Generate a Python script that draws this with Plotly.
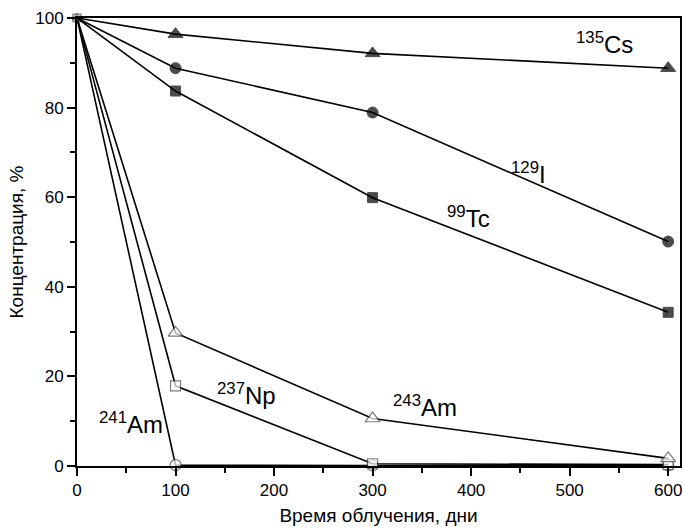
import plotly.graph_objects as go

days = [0, 100, 300, 600]
cs135 = [100, 96.4, 92.1, 88.8]
i129 = [100, 88.8, 78.9, 50.1]
tc99 = [100, 83.7, 59.9, 34.3]
am243 = [100, 29.7, 10.6, 1.7]
np237 = [100, 17.9, 0.5, 0.3]
am241 = [100, 0.2, 0.1, 0.1]

labels = [
    ("<sup>135</sup>Cs", 535, 94.5),
    ("<sup>129</sup>I", 458, 65.5),
    ("<sup>99</sup>Tc", 397, 55.5),
    ("<sup>243</sup>Am", 353, 13.5),
    ("<sup>237</sup>Np", 172, 16),
    ("<sup>241</sup>Am", 55, 9.5),
]

fig = go.Figure()

def add(y, symbol, filled, size):
    sizes = [0] + [size] * (len(y) - 1) if filled else [8] + [size] * (len(y) - 1)
    fig.add_trace(go.Scatter(
        x=days, y=y, mode="lines+markers",
        line=dict(color="black", width=1.6),
        marker=dict(symbol=symbol, size=sizes,
                    color="black" if filled else "white",
                    line=dict(color="black" if filled else "#444444", width=1 if filled else 1.2)),
        showlegend=False, cliponaxis=False))

add(am241, "circle", False, 11)
add(np237, "square", False, 10)
add(am243, "triangle-up", False, 13)
add(tc99, "square", True, 10)
add(i129, "circle", True, 11)
add(cs135, "triangle-up", True, 13)

for txt, x, y in labels:
    fig.add_annotation(x=x, y=y, text=txt, showarrow=False,
                       font=dict(family="Liberation Sans, Arial", size=24, color="black"))

axis_common = dict(showline=True, linecolor="black", linewidth=2, mirror=True,
                   ticks="outside", tickcolor="black", tickwidth=1.5, ticklen=8,
                   showgrid=False, zeroline=False,
                   tickfont=dict(family="Liberation Sans, Arial", size=17, color="black"))

fig.update_xaxes(range=[0, 612], tick0=0, dtick=100,
                 minor=dict(dtick=50, ticks="outside", ticklen=5, tickcolor="black", tickwidth=1.5),
                 title=dict(text="Время облучения, дни", standoff=9,
                            font=dict(family="Liberation Sans, Arial", size=19, color="black")),
                 **axis_common)
fig.update_yaxes(range=[0, 100], tick0=0, dtick=20,
                 minor=dict(dtick=10, ticks="outside", ticklen=5, tickcolor="black", tickwidth=1.5),
                 title=dict(text="Концентрация, %", standoff=7,
                            font=dict(family="Liberation Sans, Arial", size=19, color="black")),
                 **axis_common)

fig.update_layout(width=683, height=530, margin=dict(l=77, r=1, t=18, b=64),
                  plot_bgcolor="white", paper_bgcolor="white")

fig.write_html("out.html")
